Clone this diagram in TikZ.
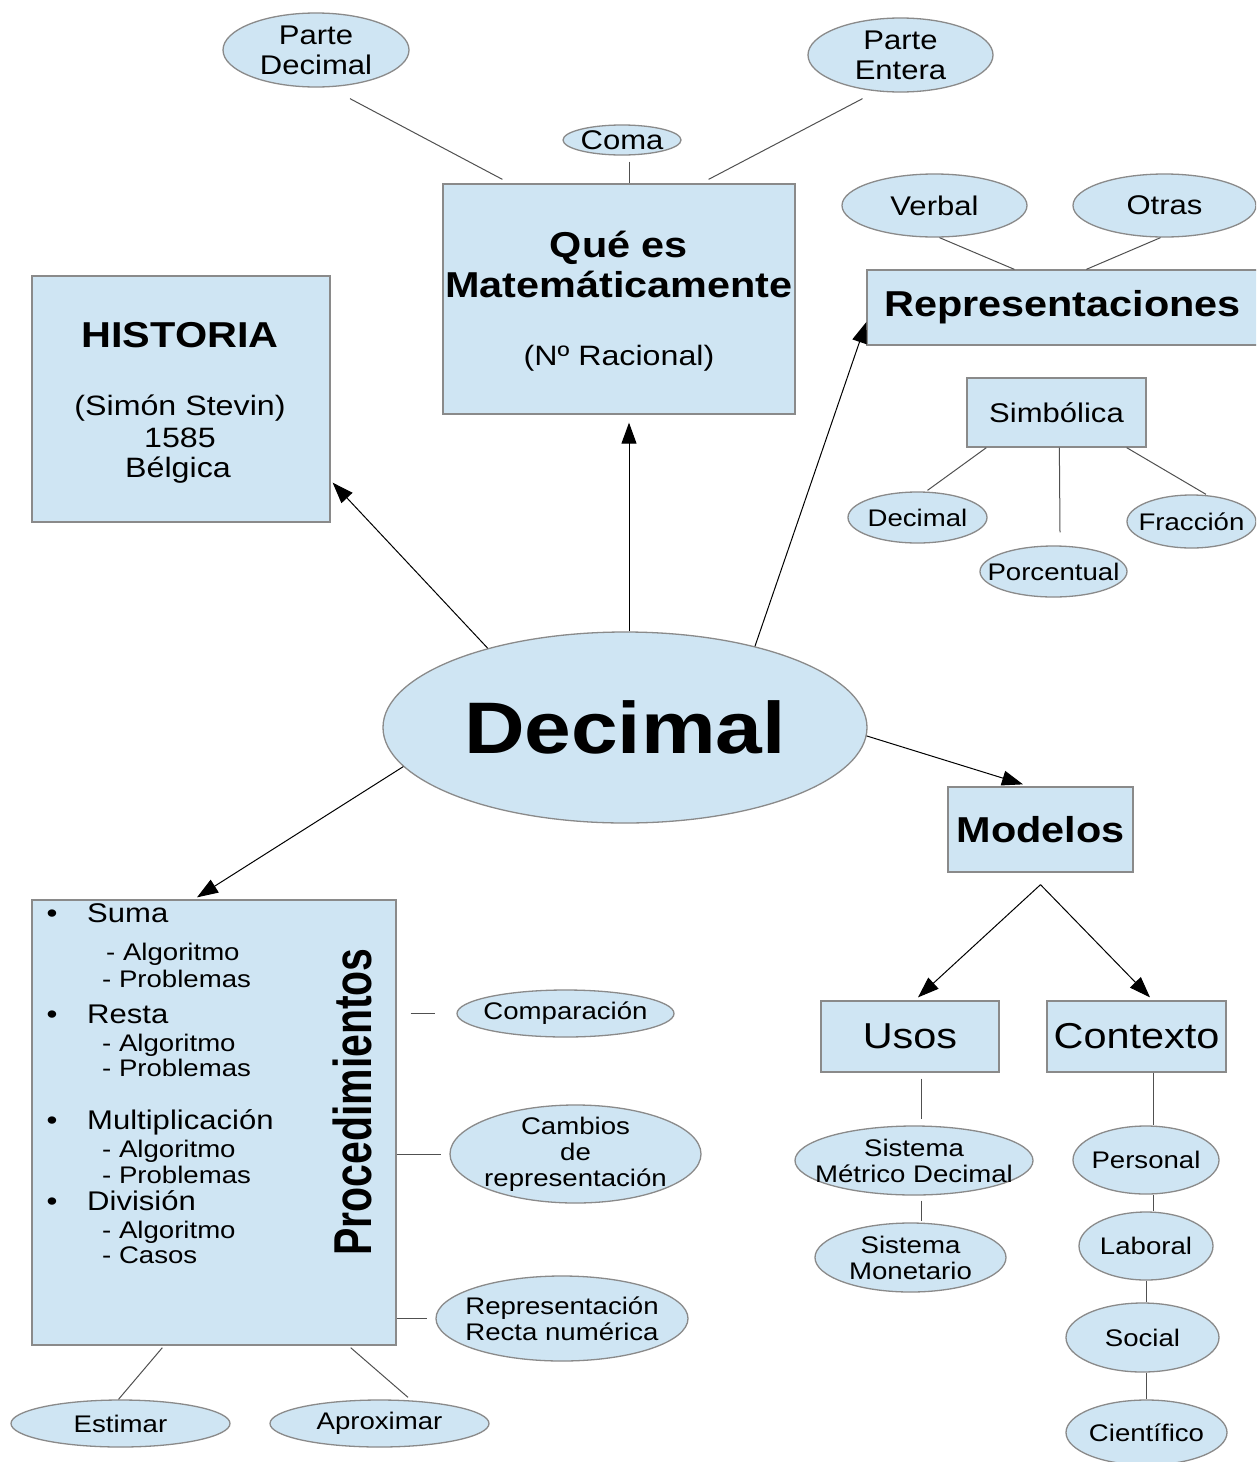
\documentclass[tikz,border=0pt]{standalone}
\usepackage{graphicx}
\usepackage{fontspec}
\setmainfont{Liberation Sans}[FakeStretch=1.15]
\newfontfamily\procfont{Liberation Sans}
\usetikzlibrary{shapes.geometric,arrows.meta,calc}
\definecolor{fillc}{HTML}{CFE5F3}
\definecolor{bordc}{HTML}{8A8A8A}
\definecolor{linec}{HTML}{505050}
\newcommand\szXS{\fontsize{24}{26}\selectfont}
\newcommand\szS{\fontsize{27}{30}\selectfont}
\newcommand\szM{\fontsize{28}{31}\selectfont}
\newcommand\szL{\fontsize{36}{40}\selectfont}
\newcommand\szXL{\fontsize{73}{80}\selectfont}
\begin{document}
\begin{tikzpicture}[x=1pt,y=-1pt,
  bx/.style={rectangle, draw=bordc, fill=fillc, line width=1.3pt, inner sep=0pt},
  el/.style 2 args={ellipse, draw=bordc, fill=fillc, line width=1.3pt, inner sep=0pt,
     minimum width=#1, minimum height=#2},
  lbS/.style={align=center, font=\szS, inner sep=0pt},
  lbXS/.style={align=center, font=\szXS, inner sep=0pt},
  txt/.style={inner sep=0pt},
  lnk/.style={draw=linec, line width=1pt},
  arr/.style={draw=black, line width=1pt, -{Triangle[length=21pt,width=15pt]}}]
\fill[white] (0,0) rectangle (1256,1462);
\clip (0,0) rectangle (1256,1462);

% ---- top: Qué es Matemáticamente
\node[el={186pt}{74pt}, label={[lbS]center:Parte\\Decimal}] (pd) at (316,50) {};
\node[el={185pt}{74pt}, label={[lbS]center:Parte\\Entera}] (pe) at (900.5,55) {};
\node[el={118pt}{30pt}, label={[lbS]center:Coma}] (coma) at (622,140) {};
\node[bx, minimum width=352pt, minimum height=230pt] (qe) at (619,299) {};
\node[txt, anchor=base, font=\szL\bfseries] (qe1) at (619,257) {Qué es};
\node[txt, anchor=base, font=\szL\bfseries] (qe2) at (619,297) {Matemáticamente};
\node[txt, anchor=base, font=\szM] (qe3) at (619,365) {(Nº Racional)};

% ---- HISTORIA
\node[bx, minimum width=298pt, minimum height=246pt] (hist) at (181,399) {};
\node[txt, anchor=base, font=\szL\bfseries] (h1) at (180,347) {HISTORIA};
\node[txt, anchor=base, font=\szM] (h2) at (180,415) {(Simón Stevin)};
\node[txt, anchor=base, font=\szM] (h3) at (180,447) {1585};
\node[txt, anchor=base, font=\szM] (h4) at (178,477) {Bélgica};

% ---- Representaciones
\node[bx, minimum width=391pt, minimum height=75pt, font=\szL\bfseries] (rep) at (1062.5,307.5) {Representaciones};
\node[el={185pt}{63pt}, label={[lbS]center:Verbal}] (verb) at (934.5,205.5) {};
\node[el={183pt}{63pt}, label={[lbS]center:Otras}] (otras) at (1164.5,205.5) {};
\node[bx, minimum width=179pt, minimum height=69pt, font=\szS] (sim) at (1056.5,412.5) {Simbólica};
\node[el={139pt}{51pt}, label={[lbXS]center:Decimal}] (sdec) at (917.5,517.5) {};
\node[el={147pt}{51pt}, label={[lbXS]center:Porcentual}] (por) at (1053.5,571.5) {};
\node[el={129pt}{53pt}, label={[lbXS]center:Fracción}] (frac) at (1191.5,521.5) {};

% ---- center
\node[el={484pt}{191pt}, label={[align=center, inner sep=0pt, font=\szXL\bfseries]center:Decimal}] (dec) at (625,727.5) {};

% ---- Modelos
\node[bx, minimum width=185pt, minimum height=85pt, font=\szL\bfseries] (mod) at (1040.5,829.5) {Modelos};
\node[bx, minimum width=178pt, minimum height=71pt, font=\szL] (usos) at (910,1036.5) {Usos};
\node[bx, minimum width=179pt, minimum height=71pt, font=\szL] (ctx) at (1136.5,1036.5) {Contexto};
\node[el={238pt}{69pt}, label={[lbXS]center:Sistema\\Métrico Decimal}] (smd) at (914,1160.5) {};
\node[el={191pt}{69pt}, label={[lbXS]center:Sistema\\Monetario}] (sm) at (910.5,1257.5) {};
\node[el={146pt}{68pt}, label={[lbXS]center:Personal}] (pers) at (1146,1160) {};
\node[el={134pt}{68pt}, label={[lbXS]center:Laboral}] (lab) at (1146,1246) {};
\node[el={153pt}{69pt}, label={[lbXS]center:Social}] (soc) at (1142.5,1337.5) {};
\node[el={161pt}{65pt}, label={[lbXS]center:Científico}] (cie) at (1146.5,1432.5) {};

% ---- Procedimientos
\node[bx, minimum width=364pt, minimum height=445pt] (proc) at (214,1122.5) {};
\node[txt, rotate=90] (procT) at (352.5,1102)
  {\scalebox{1}[1.3]{\procfont\fontsize{41}{45}\selectfont\bfseries Procedimientos}};
\foreach \nm/\yy in {b1/922, b2/1023, b3/1129, b4/1210}
  \node[txt, anchor=base, font=\szS] (\nm) at (52,\yy) {•};
\foreach \nm/\yy/\tt in {m1/922/Suma, m2/1023/Resta, m3/1129/Multiplicación, m4/1210/División}
  \node[txt, anchor=base west, font=\szS] (\nm) at (87,\yy) {\tt};
\foreach \nm/\xx/\yy/\tt in {s1/106/960/- Algoritmo, s2/102/987/- Problemas,
    s3/102/1051/- Algoritmo, s4/102/1076/- Problemas,
    s5/102/1157/- Algoritmo, s6/102/1183/- Problemas,
    s7/102/1238/- Algoritmo, s8/102/1263/- Casos}
  \node[txt, anchor=base west, font=\szXS] (\nm) at (\xx,\yy) {\tt};
\node[el={217pt}{47pt}, label={[lbXS]center:Comparación}] (comp) at (565.5,1013.5) {};
\node[el={251pt}{98pt}, label={[lbXS]center:Cambios\\de\\representación}] (camb) at (575.5,1154) {};
\node[el={252pt}{85pt}, label={[lbXS]center:Representación\\Recta numérica}] (rr) at (562,1318.5) {};
\node[el={219pt}{47pt}, label={[lbXS]center:Estimar}] (est) at (120.5,1423.5) {};
\node[el={219pt}{47pt}, label={[lbXS]center:Aproximar}] (apr) at (379.5,1423.5) {};

% ---- plain connectors
\draw[lnk] ($(pd.south)+(34,11)$) -- ($(qe.north west)+(60,-4)$);
\draw[lnk] ($(pe.south)+(-38,6)$) -- ($(qe.north east)+(-87,-4)$);
\draw[lnk] ($(coma.south)+(7,6)$) -- ($(qe.north)+(10,0)$);
\draw[lnk] ($(verb.south)+(5,0)$) -- ($(rep.north west)+(148,0)$);
\draw[lnk] ($(otras.south)+(-4,0)$) -- ($(rep.north west)+(220,0)$);
\draw[lnk] ($(sim.south west)+(20,0)$) -- ($(sdec.north)+(10,-1)$);
\draw[lnk] ($(sim.south west)+(93,0)$) -- ($(por.north)+(6.5,-13)$);
\draw[lnk] ($(sim.south east)+(-20,0)$) -- ($(frac.north)+(14.5,0)$);
\draw[lnk] ($(usos.south)+(11,6)$) -- ($(smd.north)+(7,-6)$);
\draw[lnk] ($(smd.south)+(7,5)$) -- ($(sm.north)+(10.5,-1)$);
\draw[lnk] ($(ctx.south)+(16.5,0)$) -- ($(pers.north)+(7,0)$);
\draw[lnk] ($(pers.south)+(7,0)$) -- ($(lab.north)+(7,0)$);
\draw[lnk] (lab.south) -- (lab.south |- soc.north);
\draw[lnk] (soc.south -| cie.north) -- (cie.north);
\draw[lnk, shorten <=14pt, shorten >=21pt] (proc.east |- comp.west) -- (comp.west);
\draw[lnk, shorten >=8pt] (proc.east |- camb.west) -- (camb.west);
\draw[lnk, shorten >=8pt] (proc.east |- rr.west) -- (rr.west);
\draw[lnk] ($(proc.south west)+(131,2)$) -- ($(est.north)+(-2,0)$);
\draw[lnk] ($(proc.south east)+(-46,2)$) -- ($(apr.north)+(28.5,-2)$);

% ---- arrows
\draw[arr] (dec.150) -- ($(hist.south east)+(2,-40)$);
\draw[arr] ($(dec.north)+(4,0)$) -- ($(qe.south)+(10,8)$);
\draw[arr] (dec.32) -- ($(rep.west)+(0,14.5)$);
\draw[arr] (dec.-2) -- ($(mod.north)+(-17.5,-2)$);
\draw[arr] (dec.190) -- ($(proc.north)+(-17,-2)$);
\coordinate (fork) at ($(mod.south)+(0,12)$);
\draw[arr] (fork) -- ($(usos.north)+(8,-3)$);
\draw[arr] (fork) -- ($(ctx.north)+(13.5,-3)$);
\end{tikzpicture}
\end{document}
